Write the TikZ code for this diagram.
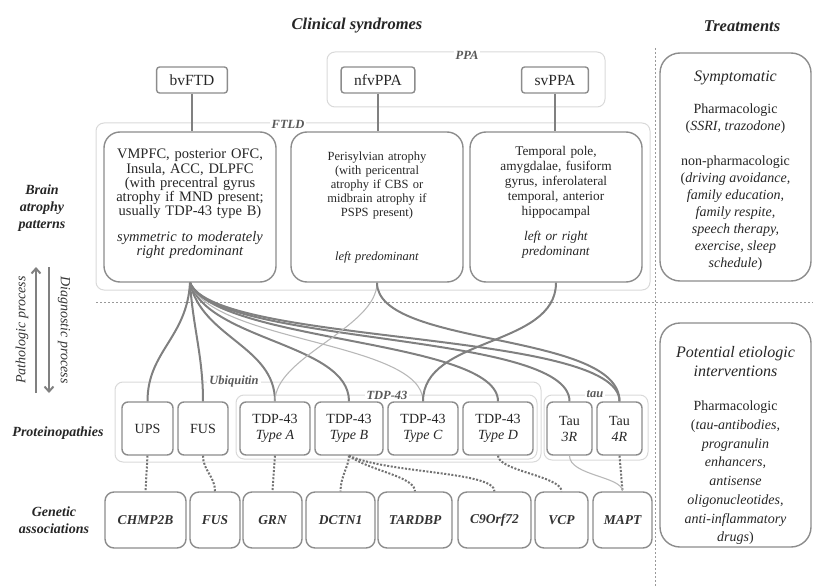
\documentclass[tikz,border=0pt]{standalone}
\usepackage{fontspec}
\setmainfont{Liberation Serif}
\usetikzlibrary{arrows.meta}

\begin{document}
\begin{tikzpicture}[
  x=1pt, y=-1pt,
  syndrome/.style={draw=black!45, line width=1.4pt, rounded corners=3pt, minimum height=26pt, inner xsep=13pt, text=black!85, font=\fontsize{15.5}{17}\selectfont},
  atrophy/.style={draw=black!45, line width=1.4pt, rounded corners=16pt, minimum height=150pt, text width=156pt, inner xsep=8pt, align=center, text=black!85, font=\fontsize{13}{14.3}\selectfont},
  protein/.style={draw=black!45, line width=1.4pt, rounded corners=6pt, minimum height=53pt, inner xsep=2pt, align=center, text=black!85, font=\fontsize{14}{16}\selectfont},
  gene/.style={draw=black!45, line width=1.4pt, rounded corners=9pt, minimum height=56pt, inner xsep=2pt, text=black!80, font=\fontsize{13.5}{16}\selectfont\bfseries\itshape},
  treat/.style={draw=black!45, line width=1.4pt, rounded corners=20pt, minimum width=151pt},
  treattext/.style={align=center, text=black!85, font=\fontsize{14}{17}\selectfont},
  group/.style={draw=black!15, line width=1pt, rounded corners=8pt},
  grouplabel/.style={fill=white, inner sep=2pt, text=black!65, font=\fontsize{12.5}{14}\selectfont\bfseries\itshape},
  heading/.style={text=black!85, font=\fontsize{16.5}{19}\selectfont\bfseries\itshape},
  sidelabel/.style={align=center, text=black!85, font=\fontsize{14}{17}\selectfont\bfseries\itshape},
  process/.style={text=black!80, font=\fontsize{14}{16}\selectfont\itshape},
  link/.style={draw=black!50, line width=2pt},
  weaklink/.style={draw=black!28, line width=1.1pt},
  genelink/.style={draw=black!55, line width=2pt, dash pattern=on 2pt off 1.6pt},
  divider/.style={draw=black!40, line width=0.8pt, dash pattern=on 2pt off 2pt},
  >={Straight Barb[length=5pt,width=9pt]}
]
  \useasboundingbox (0,0) rectangle (813,588);

  % headings and row labels
  \node[heading] (clinical) at (357,26) {Clinical syndromes};
  \node[heading] (treatments) at (742,26) {Treatments};
  \node[sidelabel] (brainlbl) at (42,208) {Brain\\atrophy\\patterns};
  \node[sidelabel] (protlbl) at (58,433) {Proteinopathies};
  \node[sidelabel] (genelbl) at (54,520) {Genetic\\associations};

  % dividers
  \draw[divider] (655,48) -- (655,588);
  \draw[divider] (96,302) -- (813,302);

  % groups
  \draw[group] (327,52) rectangle (605,107);
  \node[grouplabel] (ppalbl) at (467,55) {PPA};
  \draw[group] (96,123) rectangle (650,290);
  \node[grouplabel] (ftldlbl) at (288,124) {FTLD};
  \draw[group] (115,382) rectangle (541,462);
  \node[grouplabel] (ubilbl) at (234,381) {Ubiquitin};
  \draw[group] (236,395) rectangle (537,459);
  \node[grouplabel] (tdplbl) at (387,395) {TDP-43};
  \draw[group] (544,395) rectangle (648,460);
  \node[grouplabel] (taulbl) at (595,394) {tau};

  % clinical syndromes
  \node[syndrome] (bvftd) at (192,80) {bvFTD};
  \node[syndrome] (nfvppa) at (378,80) {nfvPPA};
  \node[syndrome] (svppa) at (555,80) {svPPA};

  \node[atrophy, font=\fontsize{14.5}{14.3}\selectfont] (bvbox) at (190,207) {VMPFC, posterior OFC,\\ Insula, ACC, DLPFC\\ (with precentral gyrus\\ atrophy if MND present;\\ usually TDP-43 type B)\\[11pt] \textit{symmetric to moderately}\\ \textit{right predominant}\\[-5pt] \mbox{}};
  \node[atrophy, font=\fontsize{12.5}{14}\selectfont] (nfvbox) at (377,207) {Perisylvian atrophy\\ (with pericentral\\ atrophy if CBS or\\ midbrain atrophy if\\ PSPS present)\\[30pt] \textit{left predominant}};
  \node[atrophy, font=\fontsize{13.3}{15}\selectfont] (svbox) at (556,207) {Temporal pole,\\ amygdalae, fusiform\\ gyrus, inferolateral\\ temporal, anterior\\ hippocampal\\[10pt] \textit{left or right}\\ \textit{predominant}\\[-2pt] \mbox{}};

  \draw[link] (bvftd.south) -- (bvftd.south |- bvbox.north);
  \draw[link] (nfvppa.south) -- (nfvppa.south |- nfvbox.north);
  \draw[link] (svppa.south) -- (svppa.south |- svbox.north);

  % process arrows
  \coordinate (pathbot) at (36,393);
  \coordinate (pathtop) at (36,267);
  \coordinate (diagtop) at (49,267);
  \coordinate (diagbot) at (49,393);
  \draw[link, ->] (pathbot) -- (pathtop);
  \draw[link, ->] (diagtop) -- (diagbot);
  \node[process, rotate=90] (pathlbl) at (22,330) {Pathologic process};
  \node[process, rotate=-90] (diaglbl) at (64,330) {Diagnostic process};

  % proteinopathies
  \node[protein, minimum width=51pt] (ups) at (147.5,428.5) {UPS};
  \node[protein, minimum width=50pt] (fus) at (203,428.5) {FUS};
  \node[protein, minimum width=70pt] (tdpa) at (275,428.5) {TDP-43\\\textit{Type A}};
  \node[protein, minimum width=68pt] (tdpb) at (349,428.5) {TDP-43\\\textit{Type B}};
  \node[protein, minimum width=70pt] (tdpc) at (423,428.5) {TDP-43\\\textit{Type C}};
  \node[protein, minimum width=70pt] (tdpd) at (498,428.5) {TDP-43\\\textit{Type D}};
  \node[protein, minimum width=45pt] (tau3) at (569.5,428.5) {Tau\\\textit{3R}};
  \node[protein, minimum width=45pt] (tau4) at (619.5,428.5) {Tau\\\textit{4R}};

  % genetic associations
  \node[gene, minimum width=81pt] (chmp) at (145.5,520) {CHMP2B};
  \node[gene, minimum width=50pt] (fusg) at (215,520) {FUS};
  \node[gene, minimum width=59pt] (grn) at (272.5,520) {GRN};
  \node[gene, minimum width=69pt] (dctn) at (340.5,520) {DCTN1};
  \node[gene, minimum width=74pt] (tardbp) at (415,520) {TARDBP};
  \node[gene, minimum width=73pt] (cnine) at (494.5,520) {C9Orf72};
  \node[gene, minimum width=53pt] (vcp) at (561.5,520) {VCP};
  \node[gene, minimum width=59pt] (mapt) at (622.5,520) {MAPT};

  % treatments
  \node[treat, minimum height=228pt] (symptomatic) at (735.5,167) {};
  \node[treattext] (symptext) at (735.5,171) {{\fontsize{16}{19}\selectfont\itshape Symptomatic}\\[15pt] Pharmacologic\\ (\textit{SSRI, trazodone})\\[18pt] non-pharmacologic\\ (\textit{driving avoidance,}\\ \textit{family education,}\\ \textit{family respite,}\\ \textit{speech therapy,}\\ \textit{exercise, sleep}\\ \textit{schedule})};
  \node[treat, minimum height=224pt] (etiologic) at (735.5,435) {};
  \node[treattext, font=\fontsize{14}{18.7}\selectfont] (etiotext) at (735.5,445.5) {{\fontsize{16}{19}\selectfont\itshape Potential etiologic}\\ {\fontsize{16}{19}\selectfont\itshape interventions}\\[16pt] Pharmacologic\\ (\textit{tau-antibodies,}\\ \textit{progranulin}\\ \textit{enhancers,}\\ \textit{antisense}\\ \textit{oligonucleotides,}\\ \textit{anti-inflammatory}\\ \textit{drugs})};

  % atrophy patterns to proteinopathies
  \draw[link] (bvbox.south) .. controls +(-3,55) and +(0,-50) .. (ups.north);
  \draw[link] (bvbox.south) .. controls +(3,45) and +(0,-45) .. (fus.north);
  \draw[link] (bvbox.south) .. controls +(12,55) and +(0,-55) .. (tdpa.north);
  \draw[link] (bvbox.south) .. controls +(18,58) and +(0,-58) .. (tdpb.north);
  \draw[weaklink] (bvbox.south) .. controls +(22,60) and +(0,-60) .. (tdpc.north);
  \draw[link] (bvbox.south) .. controls +(25,60) and +(0,-62) .. (tdpd.north);
  \draw[link] (bvbox.south) .. controls +(25,63) and +(0,-70) .. (tau3.north);
  \draw[link] (bvbox.south) .. controls +(25,63) and +(0,-72) .. (tau4.north);
  \draw[weaklink] (nfvbox.south) .. controls +(0,45) and +(0,-45) .. (tdpa.north);
  \draw[link] (nfvbox.south) .. controls +(0,65) and +(0,-70) .. (tau4.north);
  \draw[link] (svbox.south) .. controls +(0,65) and +(0,-65) .. (tdpc.north);

  % proteinopathies to genes
  \draw[genelink] (ups.south) -- (chmp.north);
  \draw[genelink] (fus.south) .. controls +(0,15) and +(0,-15) .. (fusg.north);
  \draw[genelink] (tdpa.south) -- (grn.north);
  \draw[genelink] (tdpb.south) .. controls +(0,10) and +(0,-15) .. (dctn.north);
  \draw[genelink] (tdpb.south) .. controls +(20,15) and +(0,-15) .. (tardbp.north);
  \draw[genelink] (tdpb.south) .. controls +(40,18) and +(0,-20) .. (cnine.north);
  \draw[genelink] (tdpd.south) .. controls +(0,15) and +(0,-15) .. (vcp.north);
  \draw[genelink] (tau4.south) -- (mapt.north);
  \draw[weaklink] (tau3.south) .. controls +(0,20) and +(0,-15) .. (mapt.north);
\end{tikzpicture}
\end{document}
